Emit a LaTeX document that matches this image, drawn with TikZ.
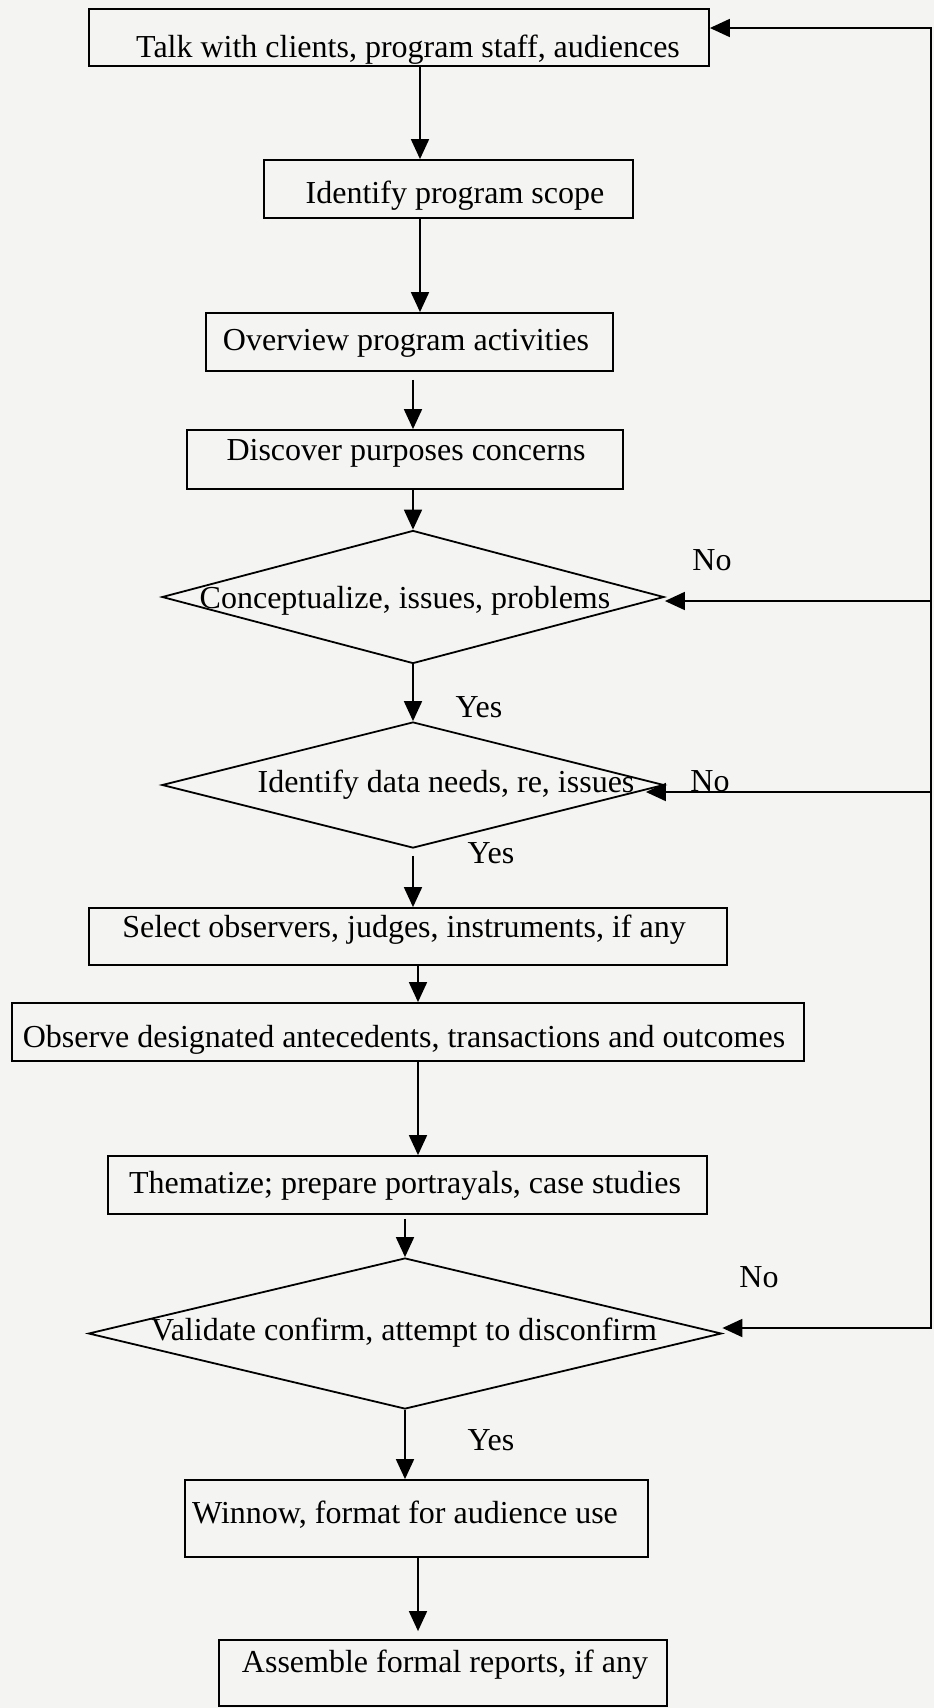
\documentclass[tikz,border=0pt]{standalone}
\usepackage{fontspec}
\setmainfont{Liberation Serif}
\usetikzlibrary{shapes.geometric,arrows.meta}
\definecolor{paper}{RGB}{244,244,242}
\begin{document}
\begin{tikzpicture}[x=1pt,y=-1pt,
  box/.style={draw, line width=1.8pt, rectangle, inner sep=0pt},
  dia/.style={draw, line width=1.8pt, diamond, inner sep=0pt},
  txt/.style={anchor=base, inner sep=0pt, font=\fontsize{32}{38}\selectfont},
  arr/.style={line width=1.8pt, line join=miter, -{Triangle[length=20pt,width=18pt]}}]
\fill[paper] (0,0) rectangle (934,1708);
\useasboundingbox (0,0) rectangle (934,1708);

% boxes and diamonds
\node[box, minimum width=620pt, minimum height=57pt] (b1) at (399,37.5) {};
\node[box, minimum width=369pt, minimum height=58pt] (b2) at (448.5,189) {};
\node[box, minimum width=407pt, minimum height=58pt] (b3) at (409.5,342) {};
\node[box, minimum width=436pt, minimum height=59pt] (b4) at (405,459.5) {};
\node[dia, minimum width=502pt, minimum height=133pt] (d1) at (413,597) {};
\node[dia, minimum width=502pt, minimum height=126pt] (d2) at (413,785) {};
\node[box, minimum width=638pt, minimum height=57pt] (b5) at (408,936.5) {};
\node[box, minimum width=792pt, minimum height=58pt] (b6) at (408,1032) {};
\node[box, minimum width=599pt, minimum height=58pt] (b7) at (407.5,1185) {};
\node[dia, minimum width=633pt, minimum height=151pt] (d3) at (405,1333.5) {};
\node[box, minimum width=463pt, minimum height=77pt] (b8) at (416.5,1518.5) {};
\node[box, minimum width=448pt, minimum height=66pt] (b9) at (443,1673) {};

% texts
\node[txt] (t1) at (408,57) {Talk with clients, program staff, audiences};
\node[txt] (t2) at (455,203) {Identify program scope};
\node[txt] (t3) at (406,350) {Overview program activities};
\node[txt] (t4) at (406,460) {Discover purposes concerns};
\node[txt] (t5) at (405,608) {Conceptualize, issues, problems};
\node[txt] (t6) at (446,792) {Identify data needs, re, issues};
\node[txt] (t7) at (404,937) {Select observers, judges, instruments, if any};
\node[txt] (t8) at (404,1047) {Observe designated antecedents, transactions and outcomes};
\node[txt] (t9) at (405,1193) {Thematize; prepare portrayals, case studies};
\node[txt] (t10) at (404,1340) {Validate confirm, attempt to disconfirm};
\node[txt] (t11) at (405,1523) {Winnow, format for audience use};
\node[txt] (t12) at (445,1672) {Assemble formal reports, if any};

% yes / no labels
\node[txt] (n1) at (712,570) {No};
\node[txt] (y1) at (479,717) {Yes};
\node[txt] (n2) at (710,791) {No};
\node[txt] (y2) at (491,863) {Yes};
\node[txt] (n3) at (759,1287) {No};
\node[txt] (y3) at (491,1450) {Yes};

% columns for the vertical connectors
\coordinate (ca) at (420,0);
\coordinate (cc) at (418,0);

\draw[arr] (b1.south -| ca) -- (b2.north -| ca);
\draw[arr] (b2.south -| ca) -- (b3.north -| ca);
\draw[arr, shorten <=8pt] (b3.south -| d1.north) -- (b4.north -| d1.north);
\draw[arr] (b4.south -| d1.north) -- (d1.north);
\draw[arr] (d1.south) -- (d2.north);
\draw[arr, shorten <=7pt] (d2.south) -- (b5.north -| d2.south);
\draw[arr] (b5.south -| cc) -- (b6.north -| cc);
\draw[arr] (b6.south -| cc) -- (b7.north -| cc);
\draw[arr, shorten <=4pt] (b7.south -| d3.north) -- (d3.north);
\draw[arr] (d3.south) -- (b8.north -| d3.south);
\draw[arr, shorten >=8pt] (b8.south -| cc) -- (b9.north -| cc);

% feedback loop on the right
\coordinate (r0) at (931,28);
\coordinate (r1) at (931,601);
\coordinate (r2) at (931,792);
\coordinate (r3) at (931,1328);
\path (d2.east) ++(-19,0) coordinate (t2e);
\draw[arr] (r3) -- (r0) -- (r0 -| b1.east);
\draw[arr] (r0) -- (r3) -- (r3 -| d3.east);
\draw[arr] (r1) -- (r1 -| d1.east);
\draw[arr] (r2) -- (r2 -| t2e);
\end{tikzpicture}
\end{document}
